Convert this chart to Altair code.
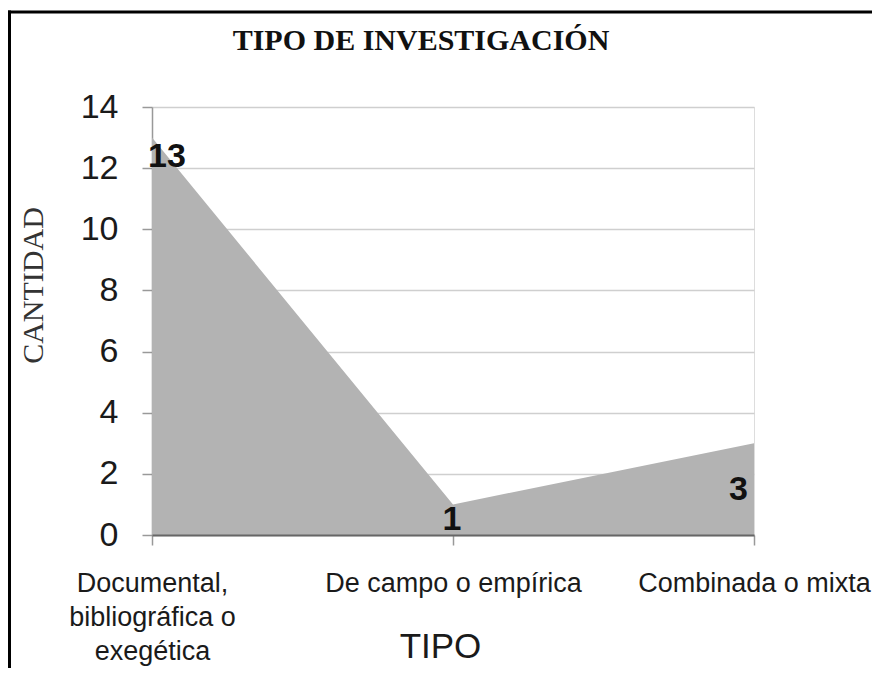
import json
import altair as alt
import pandas as pd

# ---- data ----
categories = ["Documental, bibliográfica o exegética", "De campo o empírica", "Combinada o mixta"]
label_lines = [["Documental,", "bibliográfica o", "exegética"], ["De campo o empírica"], ["Combinada o mixta"]]
values = [13, 1, 3]
y_ticks = [0, 2, 4, 6, 8, 10, 12, 14]

df = pd.DataFrame({"tipo": categories, "cantidad": values})

# multi-line axis labels
expr = "datum.label"
for cat, lines in zip(categories, label_lines):
    expr = f"datum.label == {json.dumps(cat, ensure_ascii=False)} ? {json.dumps(lines, ensure_ascii=False)} : ({expr})"

W, H = 602, 428

x_enc = alt.X(
    "tipo:N",
    sort=categories,
    scale=alt.Scale(type="point", padding=0),
    title="TIPO",
    axis=alt.Axis(
        labelExpr=expr,
        labelFont="Liberation Sans",
        labelFontSize=27,
        labelColor="#1a1a1a",
        labelAngle=0,
        labelPadding=25,
        labelLineHeight=34,
        labelBaseline="top",
        labelLimit=400,
        labelOverlap=False,
        tickSize=10,
        tickColor="#999999",
        tickWidth=1.5,
        domainColor="#666666",
        domainWidth=2,
        grid=False,
        titleFont="Liberation Sans",
        titleFontSize=35,
        titleFontWeight="normal",
        titleColor="#1a1a1a",
        titleX=288,
        titleY=122,
        titleBaseline="alphabetic",
        titleAlign="center",
        zindex=1,
    ),
)

y_enc = alt.Y(
    "cantidad:Q",
    scale=alt.Scale(domain=[0, 14]),
    title="CANTIDAD",
    axis=alt.Axis(
        values=y_ticks,
        labelFont="Liberation Sans",
        labelFontSize=34,
        labelColor="#1a1a1a",
        labelPadding=24,
        tickSize=10,
        tickColor="#999999",
        tickWidth=1.5,
        domainColor="#999999",
        domainWidth=1.5,
        grid=True,
        gridColor="#cfcfcf",
        gridWidth=1.5,
        titleFont="Liberation Serif",
        titleFontSize=30,
        titleFontWeight="normal",
        titleColor="#333333",
        titleX=-110,
        titleY=178,
        titleBaseline="alphabetic",
        titleAngle=270,
        titleAlign="center",
    ),
)

base = alt.Chart(df).encode(x=x_enc, y=y_enc)

area = base.mark_area(color="#b3b3b3", opacity=1)

lbl_style = dict(font="Liberation Sans", fontSize=34, fontWeight="bold", color="#111111", baseline="middle")
t1 = base.mark_text(align="left", dx=-4, dy=19, **lbl_style).encode(text="cantidad:Q").transform_filter(
    alt.datum.tipo == categories[0])
t2 = base.mark_text(align="center", dx=-1, dy=16, **lbl_style).encode(text="cantidad:Q").transform_filter(
    alt.datum.tipo == categories[1])
t3 = base.mark_text(align="right", dx=-6, dy=47, **lbl_style).encode(text="cantidad:Q").transform_filter(
    alt.datum.tipo == categories[2])

frame_df = pd.DataFrame({"k": [0]})
frame_left = alt.Chart(frame_df).mark_rule(color="black", strokeWidth=3).encode(
    x=alt.value(-142.5), y=alt.value(-96.5), y2=alt.value(H + 140))
frame_top = alt.Chart(frame_df).mark_rule(color="black", strokeWidth=3).encode(
    x=alt.value(-144), x2=alt.value(W + 120), y=alt.value(-95))

chart = alt.layer(area, t1, t2, t3, frame_left, frame_top).properties(
    width=W,
    height=H,
    title=alt.TitleParams(
        "TIPO DE INVESTIGACIÓN",
        font="Liberation Serif",
        fontSize=30,
        fontWeight="bold",
        color="#111111",
        anchor="middle",
        dx=-32,
        offset=-47,
    ),
    autosize=alt.AutoSizeParams(type="none"),
    padding={"left": 144, "top": 99, "right": 118, "bottom": 133},
).configure_view(stroke="#a0a0a0", strokeWidth=1.5).configure(background="white")

chart.save("out.html", embed_options={"renderer": "svg", "actions": False})
